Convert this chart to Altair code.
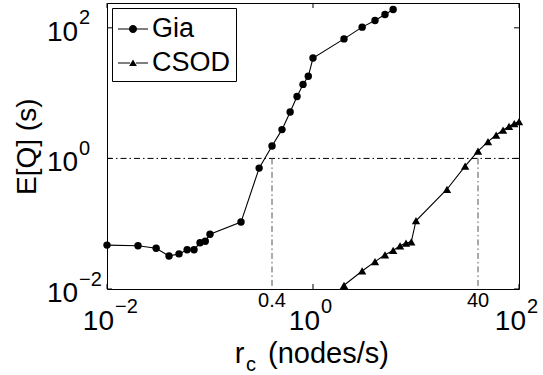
import altair as alt
import pandas as pd

# Mean query delay E[Q] versus query rate r_c for the two schemes
gia_rate = [0.01, 0.02, 0.03, 0.04, 0.05, 0.06, 0.07, 0.08, 0.09, 0.1,
            0.2, 0.3, 0.4, 0.5, 0.6, 0.7, 0.8, 0.9, 1, 2, 3, 4, 5, 6]
gia_delay = [0.047, 0.046, 0.042, 0.032, 0.0345, 0.040, 0.040, 0.051, 0.054, 0.069,
             0.106, 0.71, 1.55, 2.76, 5.15, 8.9, 13.6, 18.1, 34.5, 67.7, 102.5, 129.5, 160, 191]

csod_rate = [2, 3, 4, 5, 6, 7, 8, 9, 10, 20, 30, 40, 50, 60, 70, 80, 90, 100]
csod_delay = [0.0114, 0.0189, 0.0263, 0.0334, 0.0389, 0.0459, 0.0505, 0.0528, 0.111,
              0.337, 0.76, 1.29, 1.81, 2.28, 2.72, 3.1, 3.42, 3.67]

series_names = ["Gia", "CSOD"]

# Decade ticks and their exponents
decade_ticks = [0.01, 1, 100]
decade_exponents = ["\u22122", "0", "2"]

# Reference delay level and the rates at which each scheme reaches it
threshold_delay = 1
crossing_rate = [0.4, 40]
crossing_labels = ["0.4", "40"]

W, H = 412, 286
FONT = "Liberation Sans"

x_scale = alt.Scale(type="log", domain=[0.01, 100], nice=False)
y_scale = alt.Scale(type="log", domain=[0.01, 240], nice=False)

gia = pd.DataFrame({"rate": gia_rate, "delay": gia_delay})
csod = pd.DataFrame({"rate": csod_rate, "delay": csod_delay})
ticks = pd.DataFrame({"t": decade_ticks, "e": decade_exponents})
cross = pd.DataFrame({"rate": crossing_rate,
                      "lvl": [threshold_delay] * len(crossing_rate),
                      "label": crossing_labels})
level = pd.DataFrame({"lvl": [threshold_delay]})
blank = alt.Data(values=[{}])

X = lambda f: alt.X(f, scale=x_scale, axis=None)
Y = lambda f: alt.Y(f, scale=y_scale, axis=None)

def series_layers(df, shape, size):
    base = alt.Chart(df).encode(x=X("rate:Q"), y=Y("delay:Q"))
    line = base.mark_line(color="black", strokeWidth=1.1)
    pts = base.mark_point(shape=shape, filled=True, color="black", size=size, opacity=1)
    return [line, pts]

# Dash-dot guide lines
hline = alt.Chart(level).mark_rule(color="black", strokeWidth=1, strokeDash=[6, 3, 1.5, 3]).encode(
    y=Y("lvl:Q"), x=alt.value(0), x2=alt.value(W))
vlines = alt.Chart(cross).mark_rule(color="#555555", strokeWidth=1, strokeDash=[6, 3, 1.5, 3]).encode(
    x=X("rate:Q"), y=Y("lvl:Q"), y2=alt.value(H))
cross_text = alt.Chart(cross).mark_text(font=FONT, fontSize=20, align="center",
                                        baseline="alphabetic", color="black").encode(
    x=X("rate:Q"), y=alt.value(H + 18), text="label:N")

# Inward ticks on all four sides
tick_kw = dict(color="black", strokeWidth=1)
t_bottom = alt.Chart(ticks).mark_rule(**tick_kw).encode(x=X("t:Q"), y=alt.value(H), y2=alt.value(H - 5))
t_top = alt.Chart(ticks).mark_rule(**tick_kw).encode(x=X("t:Q"), y=alt.value(0), y2=alt.value(5))
t_left = alt.Chart(ticks).mark_rule(**tick_kw).encode(y=Y("t:Q"), x=alt.value(0), x2=alt.value(5))
t_right = alt.Chart(ticks).mark_rule(**tick_kw).encode(y=Y("t:Q"), x=alt.value(W), x2=alt.value(W - 5))

# Tick labels written as 10 with a raised exponent
xl_base = alt.Chart(ticks).mark_text(text="10", font=FONT, fontSize=28, align="right",
                                     baseline="alphabetic", dx=7, color="black").encode(
    x=X("t:Q"), y=alt.value(H + 41))
xl_exp = alt.Chart(ticks).mark_text(font=FONT, fontSize=20, align="left",
                                    baseline="alphabetic", dx=8, color="black").encode(
    x=X("t:Q"), y=alt.value(H + 24), text="e:N")
yl_base = alt.Chart(ticks).mark_text(text="10", font=FONT, fontSize=28, align="left",
                                     baseline="alphabetic", dy=13, color="black").encode(
    y=Y("t:Q"), x=alt.value(-60))
yl_exp = alt.Chart(ticks).mark_text(font=FONT, fontSize=20, align="left",
                                    baseline="alphabetic", dy=-3.5, color="black").encode(
    y=Y("t:Q"), x=alt.value(-28), text="e:N")

# Axis titles
def label(txt, x, y, size, angle=0, align="left"):
    kw = dict(text=txt, font=FONT, fontSize=size, align=align, baseline="alphabetic", color="black")
    if angle:
        kw["angle"] = angle
    return alt.Chart(blank).mark_text(**kw).encode(x=alt.value(x), y=alt.value(y))

x_title = [label("r", 127.7, 360.3, 29), label("c", 138.9, 367.5, 20),
           label("(nodes/s)", 161, 360.3, 29)]
y_title = [label("E[Q] (s)", -71.5, 143.7, 28, angle=270, align="center")]

# Legend symbols: a filled marker with thin bars on either side (unit square -1..1)
seg = "M-1,-0.035L{a},-0.035L{a},0.035L-1,0.035ZM{b},-0.035L1,-0.035L1,0.035L{b},0.035Z"
gia_symbol = (seg.format(a=-0.26, b=0.26)
              + "M0.27,0A0.27,0.27,0,1,1,-0.27,0A0.27,0.27,0,1,1,0.27,0Z")
csod_symbol = (seg.format(a=-0.2, b=0.2)
               + "M0,-0.24L0.26,0.2L-0.26,0.2Z")
legend_layer = alt.Chart(pd.DataFrame({"series": series_names})).transform_filter("false").mark_point(
    filled=True, color="black", size=900, opacity=1).encode(
    shape=alt.Shape("series:N",
                    scale=alt.Scale(domain=series_names, range=[gia_symbol, csod_symbol]),
                    legend=alt.Legend(title=None, orient="top-left", offset=5, padding=5,
                                      strokeColor="black", fillColor="white", cornerRadius=0,
                                      labelFont=FONT, labelFontSize=27, labelColor="black",
                                      labelOffset=3, rowPadding=5, symbolSize=900,
                                      symbolFillColor="black", symbolOpacity=1,
                                      labelExpr="datum.label + ' '")))

layers = ([hline, vlines, cross_text, t_bottom, t_top, t_left, t_right,
           xl_base, xl_exp, yl_base, yl_exp]
          + series_layers(gia, "circle", 55) + series_layers(csod, "triangle-up", 70)
          + x_title + y_title + [legend_layer])

chart = alt.layer(*layers).properties(
    width=W, height=H,
    padding={"left": 107, "top": 3, "right": 24, "bottom": 86},
    autosize=alt.AutoSizeParams(type="none"),
    background="white",
).configure_view(stroke="black", strokeWidth=1)

chart.save("out.html", embed_options={"renderer": "svg", "actions": False})
